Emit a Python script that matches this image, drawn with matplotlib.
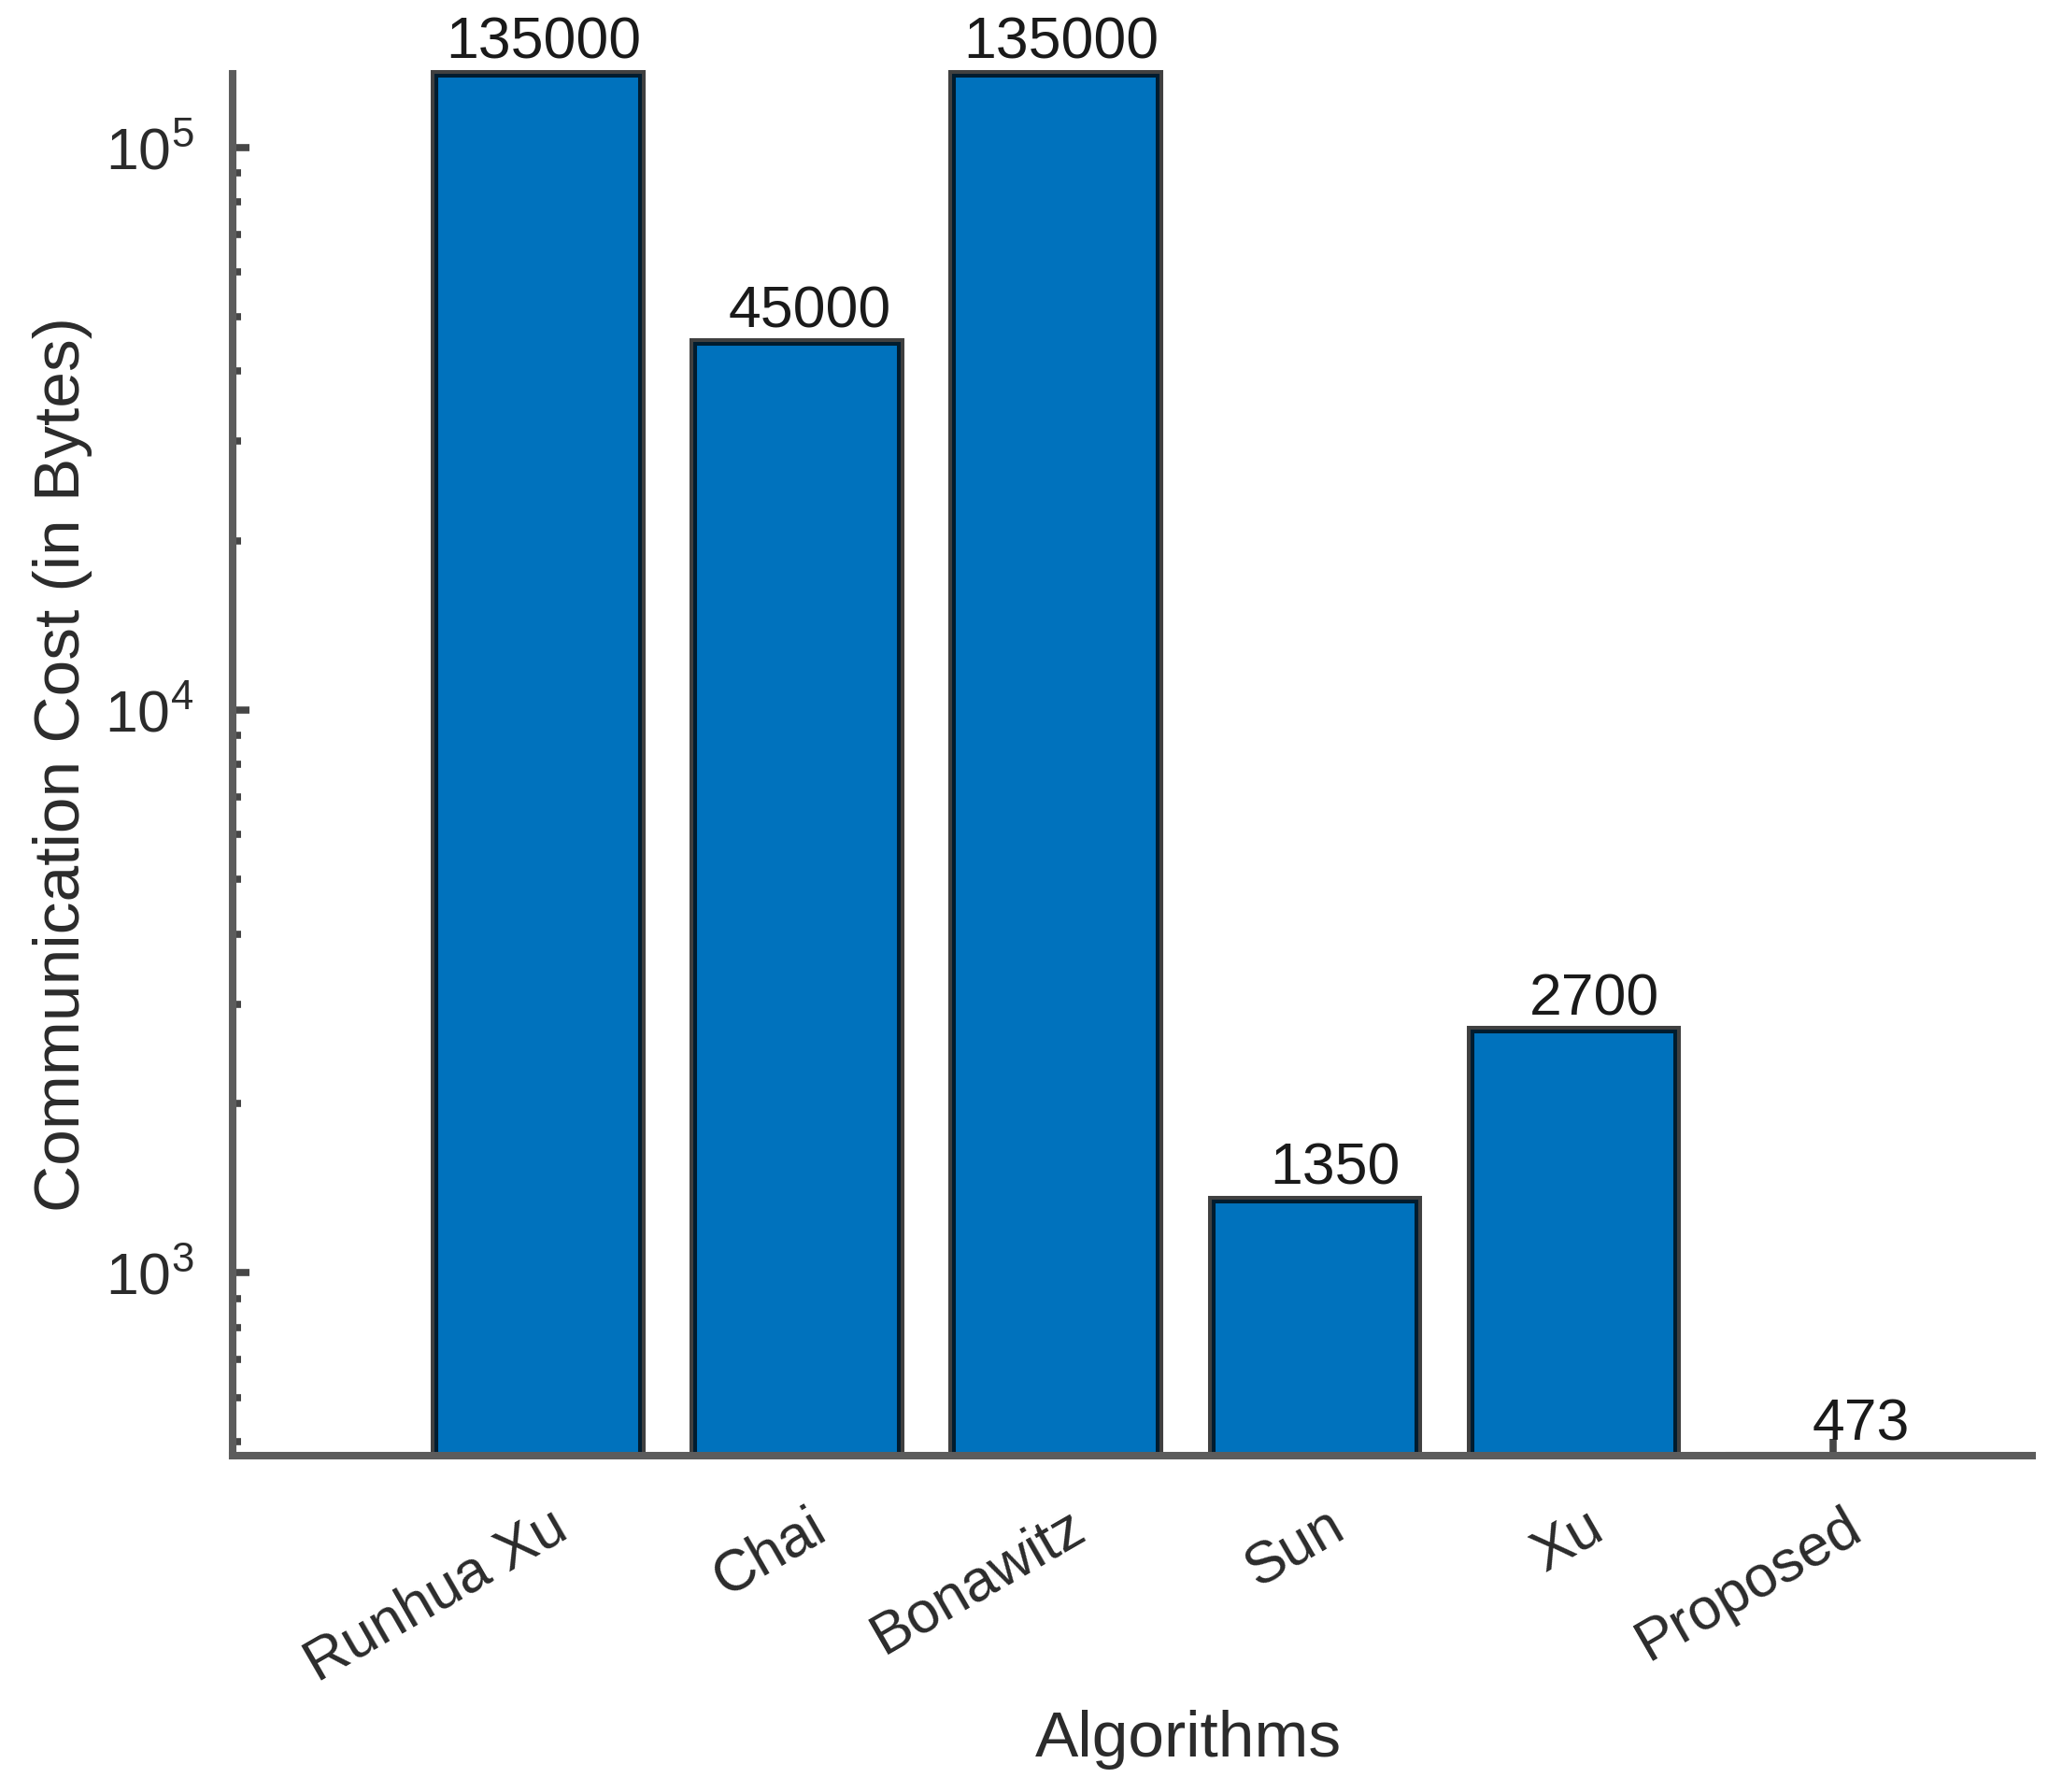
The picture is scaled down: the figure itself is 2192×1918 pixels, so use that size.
import matplotlib
matplotlib.use("Agg")
import matplotlib.pyplot as plt
from matplotlib.transforms import ScaledTranslation, Bbox, TransformedBbox
from matplotlib.ticker import LogLocator, NullFormatter
import numpy as np

# ---- data ----
algorithms = ["Runhua Xu", "Chai", "Bonawitz", "Sun", "Xu", "Proposed"]
costs = [135000, 45000, 135000, 1350, 2700, 473]

plt.rcParams["font.family"] = ["Liberation Sans", "DejaVu Sans"]
plt.rcParams["mathtext.fontset"] = "custom"
plt.rcParams["mathtext.rm"] = "Liberation Sans"
plt.rcParams["mathtext.default"] = "regular"

W, H, DPI = 2192, 1918, 100
fig = plt.figure(figsize=(W / DPI, H / DPI), dpi=DPI)
ax = fig.add_axes([249 / W, (H - 1558) / H, (2175 - 249) / W, (1558 - 79) / H])

text_col = "#2b2b2b"
spine_col = "#5c5c5c"
tick_col = (0.15, 0.15, 0.15, 0.85)
bar_col = "#0072BD"

x = np.arange(1, len(algorithms) + 1)
bars = ax.bar(x, costs, width=0.8, color=bar_col, edgecolor=(0, 0, 0, 0.75),
              linewidth=5.8, zorder=2)
clip = TransformedBbox(Bbox([[0, 0], [1, 1.01]]), ax.transAxes)
for p in bars:
    p.set_clip_on(True)
    p.set_clip_box(clip)

ax.set_yscale("log")
ax.set_ylim(min(costs), max(costs))
ax.set_xlim(-0.18, 6.77)

# value labels
for xi, v in zip(x, costs):
    s = str(v)
    dx = (6 + 8 * (6 - len(s))) / DPI
    tr = ax.transData + ScaledTranslation(dx, 16 / DPI, fig.dpi_scale_trans)
    ax.text(xi, v, s, transform=tr, ha="center", va="baseline",
            fontsize=45, color="#1a1a1a", zorder=5, clip_on=False)

# spines
for side in ["top", "right"]:
    ax.spines[side].set_visible(False)
for side in ["left", "bottom"]:
    ax.spines[side].set_color(spine_col)
    ax.spines[side].set_linewidth(5.8)
    ax.spines[side].set_zorder(3)

# y ticks
ax.yaxis.set_major_locator(LogLocator(base=10, numticks=10))
ax.yaxis.set_minor_locator(LogLocator(base=10, subs=np.arange(2, 10), numticks=20))
ax.yaxis.set_minor_formatter(NullFormatter())
ax.tick_params(axis="y", which="major", direction="in", length=13, width=5.5,
               color=tick_col, labelsize=45, labelcolor=text_col, pad=30)
ax.tick_params(axis="y", which="minor", direction="in", length=6.5, width=5.5,
               color=tick_col)

# x ticks
ax.set_xticks(x)
ax.set_xticklabels(algorithms)
ax.tick_params(axis="x", which="major", direction="in", length=13, width=5.5,
               color=tick_col, labelsize=45, labelcolor=text_col, pad=62)
ax.tick_params(axis="x", which="minor", bottom=False)
shift = ScaledTranslation(35 / DPI, 0, fig.dpi_scale_trans)
for lab in ax.get_xticklabels():
    lab.set_rotation(30)
    lab.set_ha("right")
    lab.set_va("baseline")
    lab.set_rotation_mode("anchor")
    lab.set_transform(lab.get_transform() + shift)

# axis labels
ax.set_ylabel("Communication Cost (in Bytes)", fontsize=50, color=text_col)
ax.yaxis.set_label_coords((99 - 249) / (2175 - 249), 0.5)
ax.set_xlabel("Algorithms", fontsize=50, color=text_col)
ax.xaxis.set_label_coords((1272 - 249) / (2175 - 249), (1558 - 1830) / (1558 - 79))

fig.savefig("out.png", dpi=DPI, facecolor="white")
